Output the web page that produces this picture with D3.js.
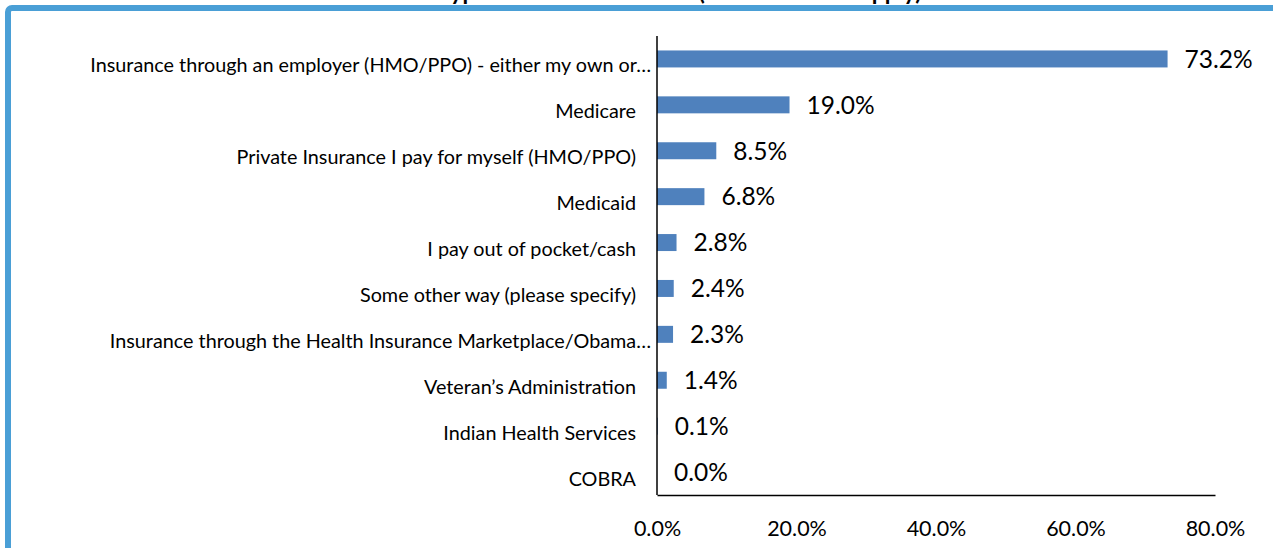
<!DOCTYPE html>
<html>
<head>
<meta charset="utf-8">
<script src="https://cdn.jsdelivr.net/npm/d3@7"></script>
<style>
  html, body { margin: 0; padding: 0; background: #fff; overflow: hidden; }
  svg text { font-family: Lato, "Open Sans", sans-serif; fill: #000; }
</style>
</head>
<body>
<svg id="chart" width="1273" height="548"></svg>
<script>
// Insurance types, top to bottom
const categories = [
  "Insurance through an employer (HMO/PPO) - either my own or\u2026",
  "Medicare",
  "Private Insurance I pay for myself (HMO/PPO)",
  "Medicaid",
  "I pay out of pocket/cash",
  "Some other way (please specify)",
  "Insurance through the Health Insurance Marketplace/Obama\u2026",
  "Veteran\u2019s Administration",
  "Indian Health Services",
  "COBRA"
];
// Share of respondents, percent
const values = [73.2, 19.0, 8.5, 6.8, 2.8, 2.4, 2.3, 1.4, 0.1, 0.0];
const xTicks = [0, 20, 40, 60, 80];
const title = "Type of Health Insurance (Select All That Apply)";

const svg = d3.select("#chart");

// Outer frame
svg.append("rect")
  .attr("x", 8).attr("y", 8)
  .attr("width", 1270).attr("height", 560)
  .attr("rx", 4)
  .attr("fill", "none")
  .attr("stroke", "#4A9FD6")
  .attr("stroke-width", 6);

// Title (sits above the frame edge)
svg.append("text")
  .attr("x", 680).attr("y", 0)
  .attr("text-anchor", "middle")
  .attr("font-size", 23)
  .attr("font-weight", "bold")
  .text(title);

const plot = { left: 657, right: 1215, top: 36, bottom: 495 };

const x = d3.scaleLinear().domain([0, 80]).range([plot.left, plot.right]);
const y = d3.scaleBand().domain(categories)
  .range([plot.top, plot.bottom])
  .paddingInner(0.63).paddingOuter(0.315);

// Bars
svg.append("g").selectAll("rect")
  .data(values)
  .join("rect")
  .attr("x", x(0))
  .attr("y", (d, i) => y(categories[i]))
  .attr("width", d => x(d) - x(0))
  .attr("height", y.bandwidth())
  .attr("fill", "#4F81BD");

// Value labels
svg.append("g").selectAll("text")
  .data(values)
  .join("text")
  .attr("x", d => x(d) + 17)
  .attr("y", (d, i) => y(categories[i]) + y.bandwidth() / 2)
  .attr("dy", "0.36em")
  .attr("font-size", 24.5)
  .text(d => d.toFixed(1) + "%");

// Category axis
const yAxis = svg.append("g")
  .attr("transform", `translate(${plot.left},0)`)
  .call(d3.axisLeft(y).tickSize(0).tickPadding(21));
yAxis.select(".domain").attr("stroke", "#000").attr("stroke-width", 1.5)
  .attr("d", `M0,${plot.top}V${plot.bottom}`);
yAxis.selectAll("text")
  .attr("font-size", 19.8)
  .attr("dy", "0.68em")
  .attr("x", d => d.endsWith("\u2026") ? -6 : -21)
  .style("font-family", "Lato, sans-serif");

// Value axis
const xAxis = svg.append("g")
  .attr("transform", `translate(0,${plot.bottom})`)
  .call(d3.axisBottom(x).tickValues(xTicks).tickSize(0).tickPadding(26)
    .tickFormat(d => d.toFixed(1) + "%"));
xAxis.select(".domain").attr("stroke", "#000").attr("stroke-width", 1.5);
xAxis.selectAll("text")
  .attr("font-size", 21.5)
  .style("font-family", "Lato, sans-serif");
</script>
</body>
</html>
